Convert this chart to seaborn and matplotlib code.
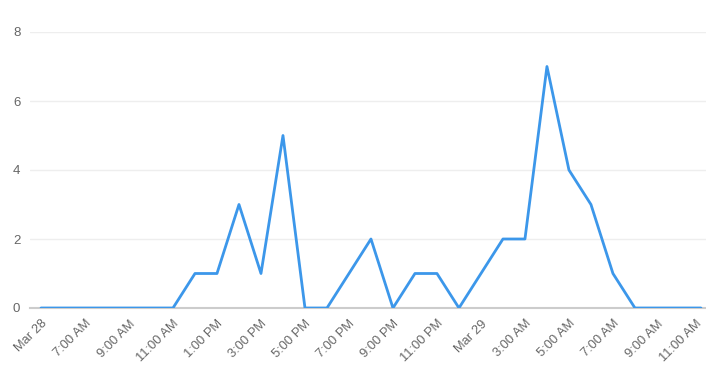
import matplotlib
matplotlib.use("Agg")
import matplotlib.pyplot as plt
import matplotlib.transforms as mtransforms
import seaborn as sns
import pandas as pd

hours = list(range(31))
counts = [0, 0, 0, 0, 0, 0, 0, 1, 1, 3, 1, 5, 0, 0, 1, 2, 0, 1, 1, 0,
          1, 2, 2, 7, 4, 3, 1, 0, 0, 0, 0]
tick_positions = list(range(0, 31, 2))
tick_labels = ["Mar 28", "7:00 AM", "9:00 AM", "11:00 AM", "1:00 PM", "3:00 PM",
               "5:00 PM", "7:00 PM", "9:00 PM", "11:00 PM", "Mar 29", "3:00 AM",
               "5:00 AM", "7:00 AM", "9:00 AM", "11:00 AM"]
y_ticks = [0, 2, 4, 6, 8]

df = pd.DataFrame({"hour": hours, "count": counts})

sns.set_style("white")
plt.rcParams["font.family"] = ["Liberation Sans", "DejaVu Sans"]

fig = plt.figure(figsize=(7.06, 3.82), dpi=100)
ax = fig.add_axes([30 / 706, (382 - 308) / 382, 676 / 706, 276 / 382])

sns.lineplot(data=df, x="hour", y="count", ax=ax, color="#3c97ea", linewidth=2)

ax.set_xlim(-0.5, 30.23)
ax.set_ylim(0, 8)
ax.set_yticks(y_ticks)
ax.set_yticklabels([str(v) for v in y_ticks])
ax.set_xticks(tick_positions)
ax.set_xticklabels(tick_labels, rotation=45, ha="right", rotation_mode="anchor")
ax.set_xlabel("")
ax.set_ylabel("")

ax.grid(axis="y", color="#eeeeee", linewidth=1)
ax.set_axisbelow(True)
for s in ["top", "right", "left"]:
    ax.spines[s].set_visible(False)
ax.spines["bottom"].set_color("#cccccc")
ax.spines["bottom"].set_linewidth(1.5)
ax.spines["bottom"].set_zorder(1)

ax.tick_params(axis="x", colors="#cccccc", length=4, width=1, labelcolor="#666666",
               labelsize=9.3, pad=3)
ax.tick_params(axis="y", length=0, labelcolor="#666666", labelsize=9.5, pad=7)

# keep the last rotated label inside the canvas
last = ax.get_xticklabels()[-1]
last.set_transform(last.get_transform() +
                   mtransforms.ScaledTranslation(-5 / 100, 0, fig.dpi_scale_trans))

fig.savefig("out.png", dpi=100)
